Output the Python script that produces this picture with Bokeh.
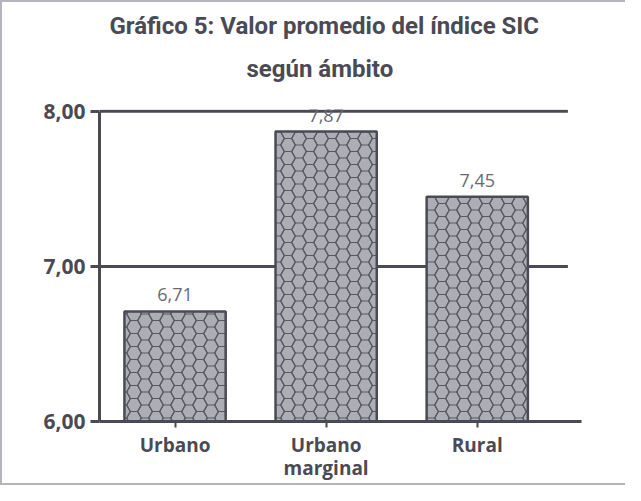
import base64
import numpy as np
from bokeh.plotting import figure
from bokeh.models import (Range1d, FixedTicker, ColumnDataSource,
                          LabelSet, Title, ImageURLTexture)
from bokeh.core.properties import value
from bokeh.embed import file_html
from bokeh.resources import INLINE

# ---------------- data ----------------
categories = ["Urbano", "Urbano marginal", "Rural"]
category_labels = ["Urbano", "Urbano\nmarginal", "Rural"]
values = [6.71, 7.87, 7.45]
y_ticks = [6, 7, 8]
y_tick_labels = ["6,00", "7,00", "8,00"]
title_lines = ["Gráfico 5: Valor promedio del índice SIC", "según ámbito"]

# ---------------- style ----------------
DARK = "#4a4a55"
BAR_FILL = "#acadb5"
HEX_LINE = "#585862"
VALUE_COLOR = "#6a6a74"
TITLE_FONT = "Roboto"
LABEL_FONT = "Open Sans"

# honeycomb texture tile (flat-top hexagons)
TW, TH = 22, 13
s = TW / 3.0
h = TH


def hex_points(cx, cy):
    pts = [(cx - s, cy), (cx - s / 2, cy - h / 2), (cx + s / 2, cy - h / 2),
           (cx + s, cy), (cx + s / 2, cy + h / 2), (cx - s / 2, cy + h / 2)]
    return " ".join(f"{px:.2f},{py:.2f}" for px, py in pts)


polys = "".join(
    f'<polygon points="{hex_points(cx, cy)}"/>'
    for cx, cy in [(0, 0), (TW, 0), (0, TH), (TW, TH), (TW / 2, TH / 2)]
)
svg_tile = (
    f'<svg xmlns="http://www.w3.org/2000/svg" width="{TW}" height="{TH}" '
    f'viewBox="0 0 {TW} {TH}"><g fill="none" stroke="{HEX_LINE}" '
    f'stroke-width="1.2">{polys}</g></svg>'
)
tile_url = "data:image/svg+xml;base64," + base64.b64encode(svg_tile.encode()).decode()

# ---------------- figure ----------------
x_pos = np.arange(len(categories)) + 0.5
fmt_values = [f"{v:.2f}".replace(".", ",") for v in values]

src = ColumnDataSource(dict(x=x_pos, top=values, label=fmt_values,
                            cat=categories))

p = figure(width=625, height=485,
           x_range=Range1d(0, 3.19), y_range=Range1d(y_ticks[0], 8.012),
           output_backend="svg", toolbar_location=None,
           min_border_left=97, min_border_right=46,
           min_border_top=107, min_border_bottom=66)
p.styles = {"border-left": "2px solid #b4b4bc",
            "border-top": "2px solid #b4b4bc",
            "border-bottom": "2px solid #b4b4bc"}
p.outline_line_color = None
p.background_fill_color = "white"
p.border_fill_color = "white"
p.xgrid.visible = False
p.ygrid.visible = False

# horizontal reference lines
for gy in y_ticks[1:]:
    p.segment(x0=[0], y0=[gy], x1=[3.1], y1=[gy], line_color=DARK, line_width=3)

p.vbar(x="x", top="top", bottom=y_ticks[0], width=0.67, source=src,
       fill_color=BAR_FILL, line_color=DARK, line_width=2.5,
       hatch_pattern=value("hex"),
       hatch_extra={"hex": ImageURLTexture(url=tile_url)})

labels = LabelSet(x="x", y="top", text="label", source=src,
                  text_align="center", text_baseline="alphabetic",
                  y_offset=10, text_font=value(LABEL_FONT),
                  text_font_size="18px", text_color=VALUE_COLOR)
p.add_layout(labels)

# two-line title (second line first: it sits closest to the plot)
t2 = Title(text=title_lines[1], align="left", offset=147,
           text_font=TITLE_FONT, text_font_size="24px",
           text_font_style="bold", text_color=DARK, standoff=53)
t1 = Title(text=title_lines[0], align="left", offset=10,
           text_font=TITLE_FONT, text_font_size="24px",
           text_font_style="bold", text_color=DARK, standoff=-27)
p.add_layout(t2, "above")
p.add_layout(t1, "above")

# axes
ya = p.yaxis[0]
ya.ticker = FixedTicker(ticks=y_ticks)
ya.major_label_overrides = {t: l for t, l in zip(y_ticks, y_tick_labels)}
ya.bounds = (y_ticks[0], y_ticks[-1])
ya.axis_line_color = DARK
ya.axis_line_width = 3
ya.major_tick_line_color = DARK
ya.major_tick_line_width = 3
ya.major_tick_out = 9
ya.major_tick_in = 0
ya.minor_tick_line_color = None
ya.major_label_standoff = 5
ya.major_label_text_font = LABEL_FONT
ya.major_label_text_font_style = "bold"
ya.major_label_text_font_size = "21px"
ya.major_label_text_color = DARK

xa = p.xaxis[0]
xa.ticker = FixedTicker(ticks=list(x_pos))
xa.major_label_overrides = {float(t): l for t, l in zip(x_pos, category_labels)}
xa.axis_line_color = DARK
xa.axis_line_width = 3
xa.major_tick_line_color = DARK
xa.major_tick_line_width = 2
xa.major_tick_out = 6
xa.major_tick_in = 0
xa.minor_tick_line_color = None
xa.major_label_standoff = 4
xa.major_label_text_font = LABEL_FONT
xa.major_label_text_font_style = "bold"
xa.major_label_text_font_size = "19px"
xa.major_label_text_line_height = 0.92
xa.major_label_text_color = DARK

open("out.html", "w").write(file_html(p, INLINE))
